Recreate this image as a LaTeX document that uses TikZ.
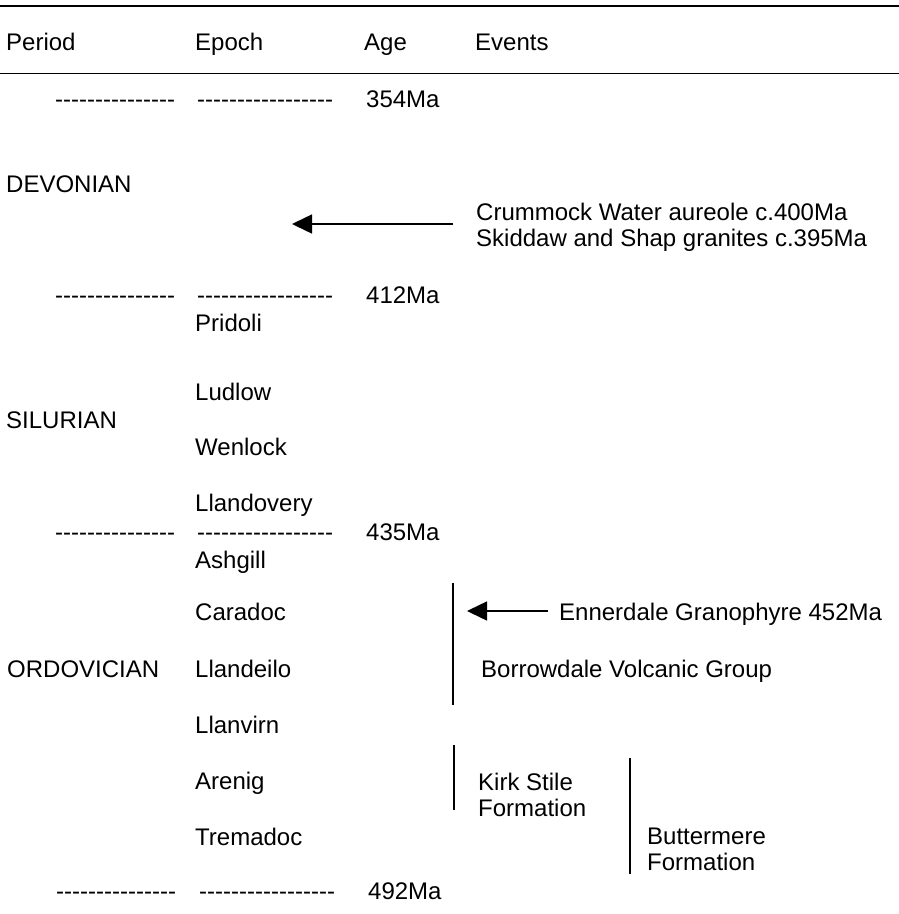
\documentclass[tikz,border=0pt]{standalone}
\usepackage{fontspec}
\newfontfamily\arial{Liberation Sans}
\usetikzlibrary{arrows.meta}
\begin{document}
\begin{tikzpicture}[x=1pt,y=-1pt,
  txt/.style={font=\arial\fontsize{24}{26}\selectfont, inner sep=0pt, anchor=base west},
  rule/.style={line width=1.8pt},
  bar/.style={line width=1.5pt},
  arr/.style={line width=1.5pt, -{Triangle[length=20pt,width=19pt]}}]
\useasboundingbox (0,0) rectangle (899,914);
% rules
\coordinate (r1l) at (0,6);   \coordinate (r1r) at (899,6);
\coordinate (r2l) at (0,73.5); \coordinate (r2r) at (899,73.5);
\draw[rule] (r1l) -- (r1r);
\draw[rule] (r2l) -- (r2r);
% header
\node[txt] (hP)  at (6,50)   {Period};
\node[txt] (hE)  at (195,50) {Epoch};
\node[txt] (hA)  at (364,50) {Age};
\node[txt] (hEv) at (475,50) {Events};
% 354
\node[txt] (d354a) at (55,107)  {---------------};
\node[txt] (d354b) at (197,107) {-----------------};
\node[txt] (a354)  at (366,107) {354Ma};
% Devonian
\node[txt] (dev) at (6,192) {DEVONIAN};
\node[txt] (crum) at (476,220) {Crummock Water aureole c.400Ma};
\node[txt] (skid) at (476,246) {Skiddaw and Shap granites c.395Ma};
\coordinate (a1s) at (453,224); \coordinate (a1e) at (292,224);
\draw[arr] (a1s) -- (a1e);
% 412
\node[txt] (d412a) at (55,303)  {---------------};
\node[txt] (d412b) at (197,303) {-----------------};
\node[txt] (a412)  at (366,303) {412Ma};
% Silurian
\node[txt] (pri)  at (195,331) {Pridoli};
\node[txt] (lud)  at (195,400) {Ludlow};
\node[txt] (sil)  at (6,428)   {SILURIAN};
\node[txt] (wen)  at (195,455) {Wenlock};
\node[txt] (lla)  at (195,511) {Llandovery};
% 435
\node[txt] (d435a) at (55,540)  {---------------};
\node[txt] (d435b) at (197,540) {-----------------};
\node[txt] (a435)  at (366,540) {435Ma};
% Ordovician
\node[txt] (ash)  at (195,568) {Ashgill};
\node[txt] (car)  at (195,620) {Caradoc};
\node[txt] (enn)  at (559,620) {Ennerdale Granophyre 452Ma};
\coordinate (a2s) at (548,611); \coordinate (a2e) at (467,611);
\draw[arr] (a2s) -- (a2e);
\coordinate (v1t) at (453,583); \coordinate (v1b) at (453,705);
\draw[bar] (v1t) -- (v1b);
\node[txt] (ord)  at (7,677)   {ORDOVICIAN};
\node[txt] (lld)  at (195,677) {Llandeilo};
\node[txt] (bor)  at (481,677) {Borrowdale Volcanic Group};
\node[txt] (llv)  at (195,733) {Llanvirn};
\coordinate (v2t) at (454,745); \coordinate (v2b) at (454,810);
\draw[bar] (v2t) -- (v2b);
\node[txt] (are)  at (195,789) {Arenig};
\node[txt] (ks1)  at (478,790) {Kirk Stile};
\node[txt] (ks2)  at (478,816) {Formation};
\coordinate (v3t) at (630,758); \coordinate (v3b) at (630,874);
\draw[bar] (v3t) -- (v3b);
\node[txt] (tre)  at (195,845) {Tremadoc};
\node[txt] (bu1)  at (647,844) {Buttermere};
\node[txt] (bu2)  at (647,870) {Formation};
% 492
\node[txt] (d492a) at (56,899)  {---------------};
\node[txt] (d492b) at (199,899) {-----------------};
\node[txt] (a492)  at (368,899) {492Ma};
\end{tikzpicture}
\end{document}
